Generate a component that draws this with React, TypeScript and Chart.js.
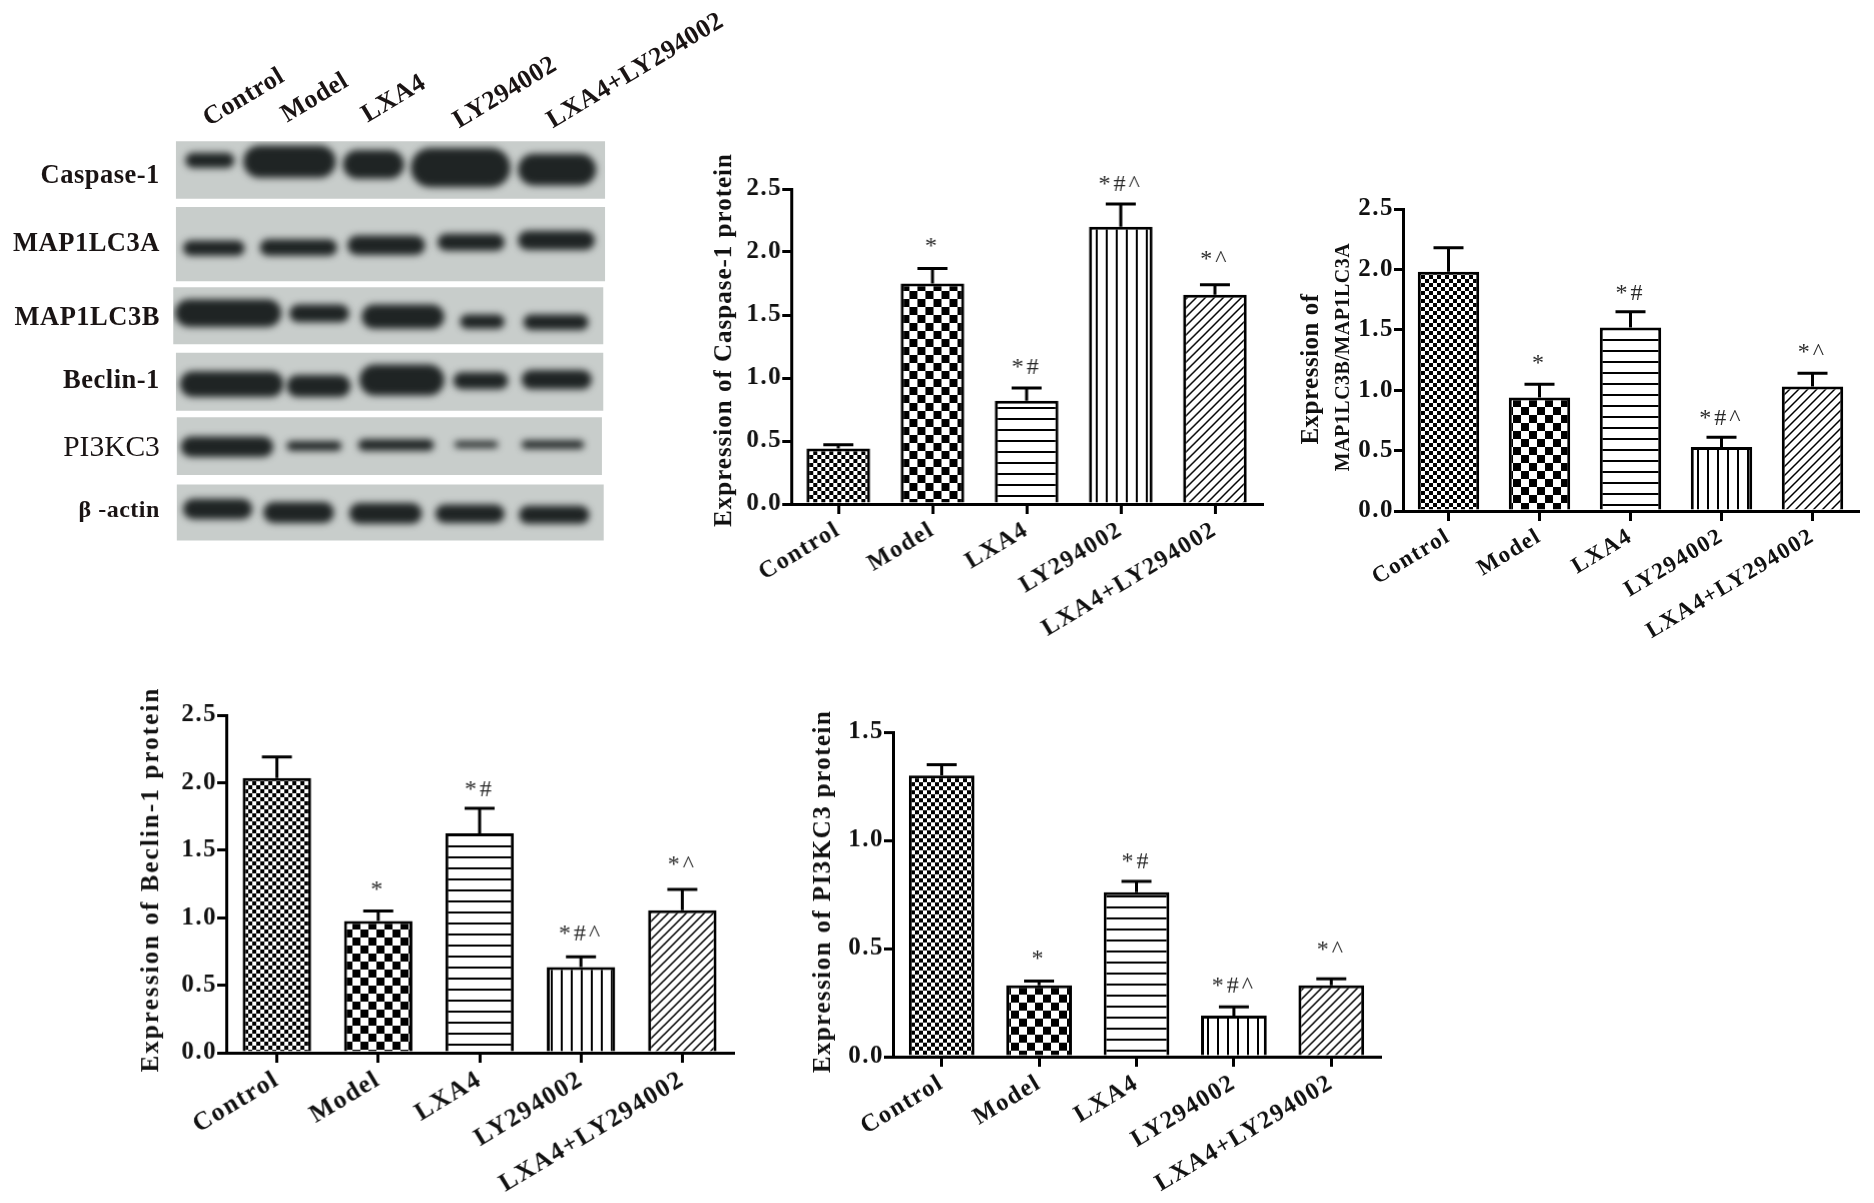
import { useEffect, useRef } from "react"
import { Chart, registerables } from "chart.js"

Chart.register(...registerables)

const SERIF = '"Liberation Serif"'

const categories = ["Control", "Model", "LXA4", "LY294002", "LXA4+LY294002"]

// bar heights, top of the error bars, significance marks and the height they sit at
const caspaseMeans = [0.44, 1.75, 0.82, 2.2, 1.66]
const caspaseTops = [0.47, 1.87, 0.92, 2.38, 1.74]
const caspaseMarks = ["", "*", "*#", "*#^", "*^"]
const caspaseMarkAt = [0, 1.99, 1.03, 2.485, 1.89]

const lc3Means = [1.98, 0.94, 1.52, 0.53, 1.03]
const lc3Tops = [2.18, 1.05, 1.65, 0.61, 1.14]
const lc3Marks = ["", "*", "*#", "*#^", "*^"]
const lc3MarkAt = [0, 1.17, 1.75, 0.71, 1.26]

const beclinMeans = [2.035, 0.975, 1.625, 0.635, 1.055]
const beclinTops = [2.19, 1.05, 1.81, 0.71, 1.21]
const beclinMarks = ["", "*", "*#", "*#^", "*^"]
const beclinMarkAt = [0, 1.16, 1.9, 0.83, 1.34]

const pi3kMeans = [1.3, 0.33, 0.76, 0.19, 0.33]
const pi3kTops = [1.35, 0.35, 0.81, 0.23, 0.36]
const pi3kMarks = ["", "*", "*#", "*#^", "*^"]
const pi3kMarkAt = [0, 0.42, 0.87, 0.295, 0.465]

// western blot, all in gel units (see the blot chart scales)
const blotRows = ["Caspase-1", "MAP1LC3A", "MAP1LC3B", "Beclin-1", "PI3KC3", "β -actin"]
const blotRowY = [458, 634, 828, 992, 1166, 1328]
const blotRowSize = [26.5, 26.5, 26.5, 26.5, 29.5, 24]
const blotPanelX = [[394, 1355], [394, 1355], [388, 1351], [394, 1351], [396, 1348], [396, 1352]]
const blotPanelY = [[367, 517], [538, 731], [747, 895], [917, 1068], [1085, 1235], [1260, 1405]]
const blotLaneX = [
  [[415, 525], [545, 752], [768, 905], [920, 1143], [1160, 1335]],
  [[410, 548], [582, 755], [778, 952], [980, 1130], [1160, 1332]],
  [[392, 630], [648, 782], [810, 995], [1030, 1130], [1172, 1318]],
  [[403, 635], [642, 785], [805, 995], [1015, 1138], [1168, 1325]],
  [[405, 612], [642, 765], [802, 972], [1018, 1115], [1168, 1308]],
  [[410, 565], [590, 748], [782, 945], [975, 1130], [1162, 1320]],
]
const blotLaneY = [
  [[397, 437], [378, 462], [390, 465], [385, 487], [400, 482]],
  [[625, 665], [622, 665], [612, 663], [608, 652], [600, 650]],
  [[778, 850], [792, 838], [792, 855], [818, 855], [818, 858]],
  [[965, 1032], [975, 1032], [948, 1028], [968, 1012], [962, 1012]],
  [[1135, 1188], [1147, 1172], [1142, 1172], [1147, 1164], [1145, 1167]],
  [[1297, 1350], [1305, 1360], [1308, 1362], [1312, 1360], [1315, 1362]],
]
const blotLabelAnchor = [[468, 329], [643, 319], [823, 319], [1028, 334], [1238, 334]]

function tile(size: number, paint: (c: CanvasRenderingContext2D) => void) {
  const off = document.createElement("canvas")
  off.width = size
  off.height = size
  const c = off.getContext("2d")!
  c.fillStyle = "#fff"
  c.fillRect(0, 0, size, size)
  c.fillStyle = "#000"
  c.strokeStyle = "#000"
  paint(c)
  return off
}

function makePatterns(ctx: CanvasRenderingContext2D) {
  const checker = (n: number) =>
    tile(n * 2, (c) => {
      c.fillRect(0, 0, n, n)
      c.fillRect(n, n, n, n)
    })
  const horizontal = tile(11, (c) => c.fillRect(0, 4, 11, 2))
  const vertical = tile(10, (c) => c.fillRect(4, 0, 2, 10))
  const diagonal = tile(9, (c) => {
    c.lineWidth = 1.5
    c.beginPath()
    c.moveTo(-2, 11)
    c.lineTo(11, -2)
    c.moveTo(-2, 2)
    c.lineTo(2, -2)
    c.moveTo(7, 11)
    c.lineTo(11, 7)
    c.stroke()
  })
  return [checker(4), checker(8), horizontal, vertical, diagonal].map(
    (t) => ctx.createPattern(t, "repeat")!,
  )
}

type PanelProps = {
  axisX: number
  topY: number
  bottomY: number
  rightX: number
  maxY: number
  tickSize: number
  means: number[]
  tops: number[]
  marks: string[]
  markAt: number[]
  titles: { text: string; size: number; spacing: number; offset: number; centerY: number }[]
}

const LEFT = 130
const PAD_TOP = 50
const PAD_RIGHT = 12
const BELOW = 170

function BarPanel(p: PanelProps) {
  const ref = useRef<HTMLCanvasElement>(null)
  const w = p.rightX - p.axisX + LEFT + PAD_RIGHT
  const h = p.bottomY - p.topY + PAD_TOP + BELOW
  const originX = p.axisX - LEFT
  const originY = p.topY - PAD_TOP

  useEffect(() => {
    if (!ref.current) return
    const ctx = ref.current.getContext("2d")
    if (!ctx) return

    const extras = {
      id: "extras",
      beforeUpdate(chart: Chart) {
        ;(chart.ctx as any).letterSpacing = "1.5px"
      },
      beforeDraw(chart: Chart) {
        ;(chart.ctx as any).letterSpacing = "1.5px"
      },
      afterDraw(chart: Chart) {
        const c = chart.ctx as any
        const { x, y } = chart.scales
        // error bars, upper side only
        c.save()
        c.strokeStyle = "#000"
        c.lineWidth = 3
        p.means.forEach((m, i) => {
          const px = x.getPixelForValue(i)
          const y0 = y.getPixelForValue(m)
          const y1 = y.getPixelForValue(p.tops[i])
          c.beginPath()
          c.moveTo(px, y0)
          c.lineTo(px, y1)
          c.moveTo(px - 15, y1)
          c.lineTo(px + 15, y1)
          c.stroke()
        })
        // significance marks
        c.fillStyle = "#2a2a2a"
        c.textAlign = "center"
        c.textBaseline = "alphabetic"
        c.font = `24px ${SERIF}`
        c.letterSpacing = "3px"
        p.marks.forEach((mark, i) => {
          if (mark) c.fillText(mark, x.getPixelForValue(i), y.getPixelForValue(p.markAt[i]))
        })
        // axis title
        c.fillStyle = "#111"
        c.textBaseline = "middle"
        p.titles.forEach((t) => {
          c.save()
          c.translate(p.axisX - t.offset - originX, t.centerY - originY)
          c.rotate(-Math.PI / 2)
          c.font = `bold ${t.size}px ${SERIF}`
          c.letterSpacing = `${t.spacing}px`
          c.fillText(t.text, 0, 0)
          c.restore()
        })
        c.restore()
      },
    }

    const chart = new Chart(ctx, {
      type: "bar",
      data: {
        labels: categories,
        datasets: [
          {
            data: p.means,
            backgroundColor: makePatterns(ctx),
            borderColor: "#000",
            borderWidth: 3,
            borderSkipped: "bottom",
            barPercentage: 0.675,
            categoryPercentage: 1,
          },
        ],
      },
      options: {
        animation: false,
        responsive: false,
        layout: { padding: { top: PAD_TOP, right: PAD_RIGHT, left: 0, bottom: 0 } },
        plugins: { legend: { display: false }, tooltip: { enabled: false } },
        scales: {
          x: {
            afterFit: (s: any) => {
              s.height = BELOW
            },
            border: { color: "#000", width: 3 },
            grid: {
              offset: false,
              drawOnChartArea: false,
              color: "#000",
              lineWidth: 3,
              tickLength: 10,
            },
            ticks: {
              color: "#111",
              font: { family: SERIF, size: p.tickSize, weight: "bold" },
              minRotation: 31,
              maxRotation: 31,
              autoSkip: false,
              padding: 2,
            },
          },
          y: {
            min: 0,
            max: p.maxY,
            afterFit: (s: any) => {
              s.width = LEFT
            },
            border: { color: "#000", width: 3 },
            grid: { drawOnChartArea: false, color: "#000", lineWidth: 3, tickLength: 9 },
            ticks: {
              stepSize: 0.5,
              color: "#111",
              font: { family: SERIF, size: 25, weight: "bold" },
              padding: 0,
              callback: (v: any) => Number(v).toFixed(1),
            },
          },
        },
      },
      plugins: [extras],
    } as any)

    return () => chart.destroy()
  }, [])

  return (
    <canvas
      ref={ref}
      width={w}
      height={h}
      style={{ position: "absolute", left: originX, top: originY, width: w, height: h }}
    />
  )
}

function BlotPanel() {
  const ref = useRef<HTMLCanvasElement>(null)

  useEffect(() => {
    if (!ref.current) return
    const ctx = ref.current.getContext("2d")
    if (!ctx) return

    const gel = {
      id: "gel",
      afterDraw(chart: Chart) {
        const c = chart.ctx as any
        const { x, y } = chart.scales
        blotRows.forEach((row, r) => {
          const left = x.getPixelForValue(blotPanelX[r][0])
          const right = x.getPixelForValue(blotPanelX[r][1])
          const top = y.getPixelForValue(blotPanelY[r][0])
          const bottom = y.getPixelForValue(blotPanelY[r][1])
          c.save()
          c.beginPath()
          c.rect(left, top, right - left, bottom - top)
          c.fillStyle = "#c8cdcb"
          c.fill()
          c.clip()
          c.filter = "blur(3.5px)"
          c.fillStyle = "#1f2424"
          blotLaneX[r].forEach((band, i) => {
            const bx0 = x.getPixelForValue(band[0])
            const bx1 = x.getPixelForValue(band[1])
            const by0 = y.getPixelForValue(blotLaneY[r][i][0])
            const by1 = y.getPixelForValue(blotLaneY[r][i][1])
            c.beginPath()
            c.roundRect(bx0, by0, bx1 - bx0, by1 - by0, (by1 - by0) / 2)
            c.fill()
          })
          c.restore()

          // row names
          c.save()
          c.fillStyle = "#1a1414"
          c.textAlign = "right"
          c.textBaseline = "middle"
          c.font = `${row === "PI3KC3" ? "" : "bold "}${blotRowSize[r]}px ${SERIF}`
          c.letterSpacing = row === "PI3KC3" ? "0px" : "0.5px"
          c.fillText(row, x.getPixelForValue(358), y.getPixelForValue(blotRowY[r]))
          c.restore()
        })
        // lane names
        categories.forEach((name, i) => {
          c.save()
          c.translate(x.getPixelForValue(blotLabelAnchor[i][0]), y.getPixelForValue(blotLabelAnchor[i][1]))
          c.rotate((-31 * Math.PI) / 180)
          c.fillStyle = "#1a1414"
          c.textAlign = "left"
          c.textBaseline = "alphabetic"
          c.font = `bold 26px ${SERIF}`
          c.letterSpacing = "0.5px"
          c.fillText(name, 0, 0)
          c.restore()
        })
      },
    }

    const chart = new Chart(ctx, {
      type: "scatter",
      data: { datasets: [{ data: [] }] },
      options: {
        animation: false,
        responsive: false,
        layout: { padding: 0 },
        plugins: { legend: { display: false }, tooltip: { enabled: false } },
        scales: {
          x: { type: "linear", display: false, min: 0, max: 1702 },
          y: { type: "linear", display: false, min: 0, max: 1560, reverse: true },
        },
      },
      plugins: [gel],
    } as any)

    return () => chart.destroy()
  }, [])

  return (
    <canvas
      ref={ref}
      width={760}
      height={600}
      style={{ position: "absolute", left: 0, top: 0, width: 760, height: 600 }}
    />
  )
}

export default function App() {
  return (
    <div style={{ position: "absolute", left: 0, top: 0, width: 1874, height: 1203, background: "#fff", overflow: "hidden" }}>
      <BlotPanel />
      <BarPanel
        axisX={791}
        topY={189}
        bottomY={504}
        rightX={1261.5}
        maxY={2.5}
        tickSize={24}
        means={caspaseMeans}
        tops={caspaseTops}
        marks={caspaseMarks}
        markAt={caspaseMarkAt}
        titles={[{ text: "Expression of Caspase-1 protein", size: 25, spacing: 1, offset: 66, centerY: 340 }]}
      />
      <BarPanel
        axisX={1403}
        topY={209}
        bottomY={511}
        rightX={1858}
        maxY={2.5}
        tickSize={23}
        means={lc3Means}
        tops={lc3Tops}
        marks={lc3Marks}
        markAt={lc3MarkAt}
        titles={[
          { text: "Expression of", size: 25, spacing: 0.5, offset: 91, centerY: 369 },
          { text: "MAP1LC3B/MAP1LC3A", size: 20, spacing: 0.5, offset: 59, centerY: 357 },
        ]}
      />
      <BarPanel
        axisX={226}
        topY={715}
        bottomY={1052.5}
        rightX={732.5}
        maxY={2.5}
        tickSize={25.5}
        means={beclinMeans}
        tops={beclinTops}
        marks={beclinMarks}
        markAt={beclinMarkAt}
        titles={[{ text: "Expression of Beclin-1 protein", size: 25, spacing: 2.1, offset: 74, centerY: 879 }]}
      />
      <BarPanel
        axisX={893}
        topY={732}
        bottomY={1056.5}
        rightX={1380}
        maxY={1.5}
        tickSize={24.5}
        means={pi3kMeans}
        tops={pi3kTops}
        marks={pi3kMarks}
        markAt={pi3kMarkAt}
        titles={[{ text: "Expression of PI3KC3 protein", size: 25, spacing: 1.45, offset: 69, centerY: 891 }]}
      />
    </div>
  )
}
